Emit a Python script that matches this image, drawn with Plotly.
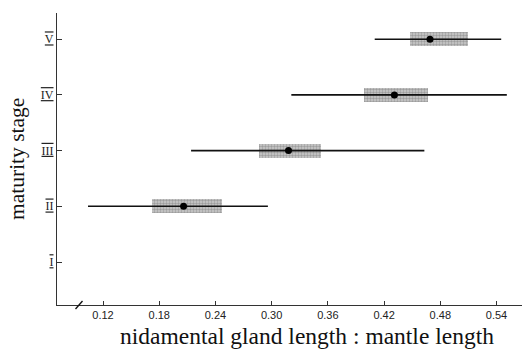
import plotly.graph_objects as go

stages = [2, 3, 4, 5]
range_low = [0.104, 0.214, 0.321, 0.410]
range_high = [0.296, 0.463, 0.551, 0.545]
box_low = [0.172, 0.287, 0.399, 0.448]
box_high = [0.247, 0.353, 0.467, 0.510]
means = [0.206, 0.318, 0.431, 0.469]

x_ticks = [0.12, 0.18, 0.24, 0.30, 0.36, 0.42, 0.48, 0.54]
x_ticklabels = ["0.12", "0.18", "0.24", "0.30", "0.36", "0.42", "0.48", "0.54"]
y_ticks = [1, 2, 3, 4, 5]
y_numerals = ["I", "II", "III", "IV", "V"]
y_ticklabels = ['<span style="text-decoration:underline overline">%s</span>' % n for n in y_numerals]

W, H = 522, 351
L, R, T, B = 57, 0, 13, 46

fig = go.Figure()

fig.add_trace(go.Bar(
    orientation="h",
    y=stages,
    base=box_low,
    x=[h - l for h, l in zip(box_high, box_low)],
    width=0.25,
    marker=dict(color="#bdbdbd", line=dict(width=0),
                pattern=dict(shape=".", fgcolor="#6e6e6e", bgcolor="#cccccc", size=3, solidity=0.5)),
    hoverinfo="skip",
    showlegend=False,
))

for lo, hi, s in zip(range_low, range_high, stages):
    fig.add_trace(go.Scatter(
        x=[lo, hi], y=[s, s], mode="lines",
        line=dict(color="#111111", width=1.6),
        showlegend=False, hoverinfo="skip",
    ))

fig.add_trace(go.Scatter(
    x=means, y=stages, mode="markers",
    marker=dict(color="#000000", size=7),
    showlegend=False, hoverinfo="skip",
))

def px2paper(px, py):
    return (px - L) / (W - L - R), (H - B - py) / (H - T - B)

x0, y0 = px2paper(75.5, 309)
x1, y1 = px2paper(82.5, 301)
fig.add_shape(type="line", xref="paper", yref="paper", x0=x0, y0=y0, x1=x1, y1=y1,
              line=dict(color="#111111", width=1.3))

fig.add_annotation(
    text="nidamental gland length : mantle length",
    xref="paper", yref="paper",
    x=px2paper(307, 0)[0], y=px2paper(0, 336)[1],
    xanchor="center", yanchor="middle", showarrow=False,
    font=dict(family="Liberation Serif", size=23.5, color="#111111"),
)
fig.add_annotation(
    text="maturity stage",
    xref="paper", yref="paper",
    x=px2paper(17, 0)[0], y=0.5,
    xanchor="center", yanchor="middle", showarrow=False, textangle=-90,
    font=dict(family="Liberation Serif", size=21.5, color="#111111"),
)

fig.update_layout(
    width=W, height=H,
    margin=dict(l=L, r=R, t=T, b=B),
    plot_bgcolor="white", paper_bgcolor="white",
    bargap=0,
)
fig.update_xaxes(
    range=[0.0709, 0.5672],
    tickvals=x_ticks, ticktext=x_ticklabels,
    ticks="inside", ticklen=4, tickcolor="#333333", tickwidth=1,
    showline=True, linecolor="#333333", linewidth=1.2,
    showgrid=False, zeroline=False,
    tickfont=dict(family="Liberation Sans", size=11, color="#222222"),
)
fig.update_yaxes(
    range=[0.228, 5.47],
    tickvals=y_ticks, ticktext=y_ticklabels,
    ticks="inside", ticklen=5, tickcolor="#333333", tickwidth=1,
    showline=True, linecolor="#333333", linewidth=1.2,
    showgrid=False, zeroline=False,
    tickfont=dict(family="Liberation Serif", size=12, color="#222222"),
)

fig.write_html("out.html")
